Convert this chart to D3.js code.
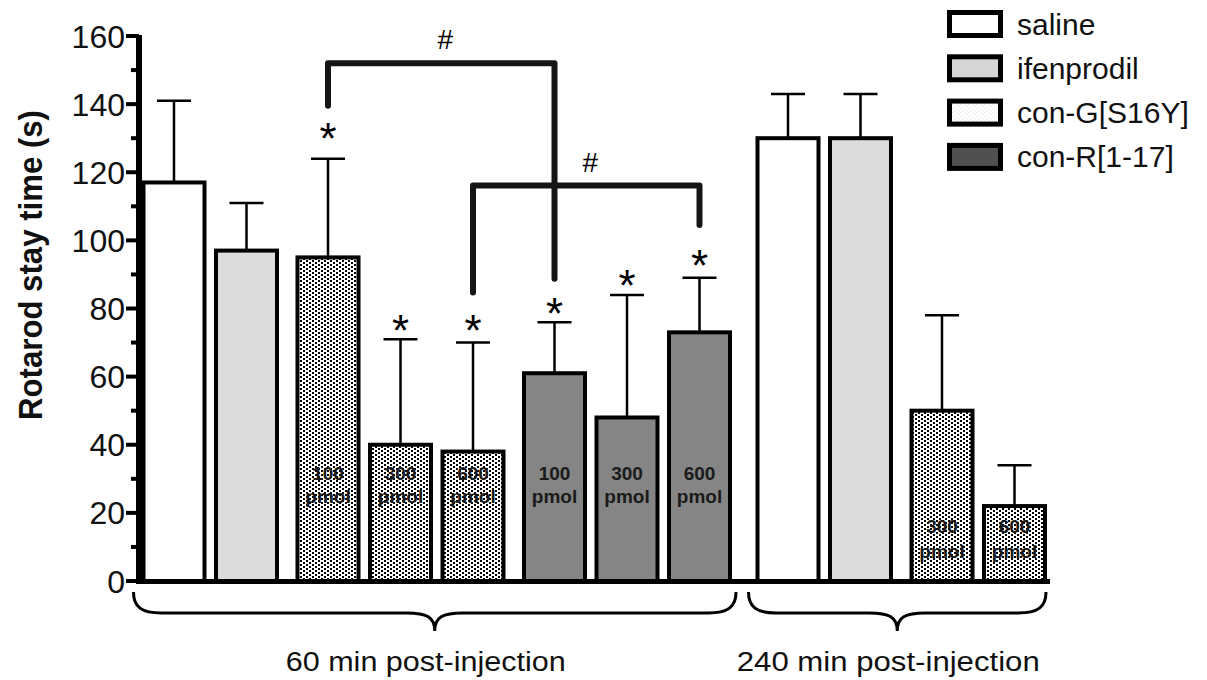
<!DOCTYPE html>
<html><head><meta charset="utf-8">
<script src="https://cdn.jsdelivr.net/npm/d3@7"></script>
<style>html,body{margin:0;padding:0;background:#fff;}svg{display:block;font-family:"Liberation Sans",Arial,sans-serif;}</style>
</head><body>
<svg id="chart" width="1207" height="680"></svg>
<script>
// ---- data ----
const treatments = ["saline","ifenprodil","con-G[S16Y]","con-G[S16Y]","con-G[S16Y]","con-R[1-17]","con-R[1-17]","con-R[1-17]","saline","ifenprodil","con-G[S16Y]","con-G[S16Y]"];
const timepoints = ["60 min post-injection","60 min post-injection","60 min post-injection","60 min post-injection","60 min post-injection","60 min post-injection","60 min post-injection","60 min post-injection","240 min post-injection","240 min post-injection","240 min post-injection","240 min post-injection"];
const doses = ["","","100","300","600","100","300","600","","","300","600"];
const means = [117, 97, 95, 40, 38, 61, 48, 73, 130, 130, 50, 22];
const sems  = [24, 14, 29, 31, 32, 15, 36, 16, 13, 13, 28, 12];
const stars = [null, null, 132.6, 76.3, 76.3, 81.2, 89.6, 95.5, null, null, null, null];
const legendItems = ["saline","ifenprodil","con-G[S16Y]","con-R[1-17]"];
const yTicks = [0,20,40,60,80,100,120,140,160];
const yTitle = "Rotarod stay time (s)";
// significance brackets: bar indices, level, leg ends (data units)
const bracketFrom = [2, 4];
const bracketTo = [5, 7];
const bracketLevel = [152, 116.1];
const bracketLeftEnd = [139.5, 84.7];
const bracketRightEnd = [88.7, 104.5];
const bracketLabel = ["#", "#"];

// ---- layout ----
const svg = d3.select("#chart");
const y = d3.scaleLinear().domain([0,160]).range([581, 36]);

const slots = [];
let u = 0;
for (let i = 0; i < means.length; i++) {
  if (i > 0) {
    u += 1;
    if (timepoints[i] !== timepoints[i-1]) u += 16/72.5;
    else if (doses[i] && treatments[i] !== treatments[i-1]) u += 9/72.5;
  }
  slots.push(u);
}
const x = d3.scaleLinear().domain([0, slots[slots.length-1]]).range([174, 1014.5]);
const barW = 61, barStroke = 4;

// patterns
const defs = svg.append("defs");
const pat = defs.append("pattern").attr("id","dots").attr("patternUnits","userSpaceOnUse")
  .attr("width",6).attr("height",4);
pat.append("rect").attr("width",6).attr("height",4).attr("fill","#fff");
pat.append("rect").attr("x",0).attr("y",0).attr("width",2).attr("height",2).attr("fill","#000");
pat.append("rect").attr("x",3).attr("y",2).attr("width",2).attr("height",2).attr("fill","#000");
const patL = defs.append("pattern").attr("id","dotsLight").attr("patternUnits","userSpaceOnUse")
  .attr("width",4).attr("height",4);
patL.append("rect").attr("width",4).attr("height",4).attr("fill","#fff");
patL.append("rect").attr("x",0).attr("y",0).attr("width",1).attr("height",1).attr("fill","#e2e2e2");
patL.append("rect").attr("x",2).attr("y",2).attr("width",1).attr("height",1).attr("fill","#e2e2e2");

const barFill = {"saline":"#ffffff","ifenprodil":"#dcdcdc","con-G[S16Y]":"url(#dots)","con-R[1-17]":"#858585"};
const legendFill = {"saline":"#ffffff","ifenprodil":"#d6d6d6","con-G[S16Y]":"url(#dotsLight)","con-R[1-17]":"#505050"};

const data = means.map((m,i)=>({i, m, s: sems[i], t: treatments[i], d: doses[i], star: stars[i], cx: x(slots[i])}));

// error bars (upper only)
const eg = svg.append("g");
data.forEach(d=>{
  eg.append("line").attr("x1",d.cx).attr("x2",d.cx).attr("y1",y(d.m)).attr("y2",y(d.m+d.s))
    .attr("stroke","#000").attr("stroke-width",2.5);
  eg.append("line").attr("x1",d.cx-17).attr("x2",d.cx+17).attr("y1",y(d.m+d.s)).attr("y2",y(d.m+d.s))
    .attr("stroke","#000").attr("stroke-width",2.5);
});

// bars
svg.append("g").selectAll("rect").data(data).join("rect")
  .attr("x", d=>d.cx - barW/2)
  .attr("y", d=>y(d.m))
  .attr("width", barW)
  .attr("height", d=>y(0)-y(d.m))
  .attr("fill", d=>barFill[d.t])
  .attr("stroke","#000").attr("stroke-width",barStroke);

// dose labels in bars
const lg = svg.append("g").attr("font-weight","bold").attr("font-size",19).attr("text-anchor","middle").attr("fill","#1a1a1a");
data.filter(d=>d.d).forEach(d=>{
  const late = timepoints[d.i] !== timepoints[0];
  const b1 = late ? 533 : 480, b2 = late ? 558 : 503;
  lg.append("text").attr("x",d.cx).attr("y",b1).text(d.d);
  lg.append("text").attr("x",d.cx).attr("y",b2).text("pmol");
});

// asterisks
svg.append("g").selectAll("text").data(data.filter(d=>d.star!==null)).join("text")
  .attr("x", d=>d.cx).attr("y", d=>y(d.star)+25)
  .attr("text-anchor","middle").attr("font-size",44).attr("fill","#000").text("*");

// brackets
const bg = svg.append("g");
bracketFrom.forEach((f,k)=>{
  const xa = x(slots[f]), xb = x(slots[bracketTo[k]]);
  bg.append("path")
    .attr("d", `M${xa},${y(bracketLeftEnd[k])} L${xa},${y(bracketLevel[k])} L${xb},${y(bracketLevel[k])} L${xb},${y(bracketRightEnd[k])}`)
    .attr("fill","none").attr("stroke","#151515").attr("stroke-width",6).attr("stroke-linecap","round").attr("stroke-linejoin","round");
  bg.append("text").attr("x",(xa+xb)/2 + 4).attr("y", y(bracketLevel[k]) - 14)
    .attr("text-anchor","middle").attr("font-size",28).text(bracketLabel[k]);
});

// y axis
const ax = svg.append("g");
ax.append("line").attr("x1",139).attr("x2",139).attr("y1",y(160)-1).attr("y2",584).attr("stroke","#000").attr("stroke-width",6);
d3.range(0,161,10).forEach(v=>{
  const major = v % 20 === 0;
  ax.append("line").attr("x1", major?126:131).attr("x2",139).attr("y1",y(v)).attr("y2",y(v))
    .attr("stroke","#000").attr("stroke-width",4);
});
ax.selectAll("text.tick").data(yTicks).join("text").attr("class","tick")
  .attr("x",125).attr("y",d=>y(d)+11.5).attr("text-anchor","end").attr("font-size",32).attr("fill","#111").text(d=>d);
// x baseline
ax.append("line").attr("x1",136).attr("x2",1050).attr("y1",581.5).attr("y2",581.5).attr("stroke","#000").attr("stroke-width",5);

// y title
svg.append("text").attr("transform","translate(42,265) rotate(-90)")
  .attr("text-anchor","middle").attr("font-weight","bold").attr("font-size",33)
  .attr("textLength",310).attr("lengthAdjust","spacingAndGlyphs").attr("fill","#111").text(yTitle);

// braces and group labels
const groups = Array.from(new Set(timepoints));
function brace(x0,x1,yTop,yMid,yTip){
  const xm=(x0+x1)/2, r=28;
  return `M${x0},${yTop} C${x0},${yMid-6} ${x0+8},${yMid} ${x0+r},${yMid} L${xm-r},${yMid} C${xm-8},${yMid} ${xm},${yMid+4} ${xm},${yTip} C${xm},${yMid+4} ${xm+8},${yMid} ${xm+r},${yMid} L${x1-r},${yMid} C${x1-8},${yMid} ${x1},${yMid-6} ${x1},${yTop}`;
}
groups.forEach((g,k)=>{
  const idx = d3.range(means.length).filter(i=>timepoints[i]===g);
  const xl = x(slots[idx[0]]) - barW/2 - (k===0?10:9);
  const xr = x(slots[idx[idx.length-1]]) + barW/2 + (k===0?6:1);
  svg.append("path").attr("d",brace(xl,xr,592,613,631)).attr("fill","none").attr("stroke","#000").attr("stroke-width",3);
  const xm = (xl+xr)/2 - 9;
  svg.append("text").attr("x",xm).attr("y",671).attr("text-anchor","middle").attr("font-size",27)
    .attr("textLength", k===0?280:303).attr("lengthAdjust","spacingAndGlyphs").attr("fill","#111").text(g);
});

// legend
const leg = svg.append("g");
legendItems.forEach((t,k)=>{
  const top = 10 + k*44.3;
  leg.append("rect").attr("x",949.5).attr("y",top+2.5).attr("width",51).attr("height",23)
    .attr("fill",legendFill[t]).attr("stroke","#000").attr("stroke-width",5);
  leg.append("text").attr("x",1017).attr("y",top+24.5).attr("font-size",30).attr("fill","#111").text(t);
});
</script>
</body></html>
